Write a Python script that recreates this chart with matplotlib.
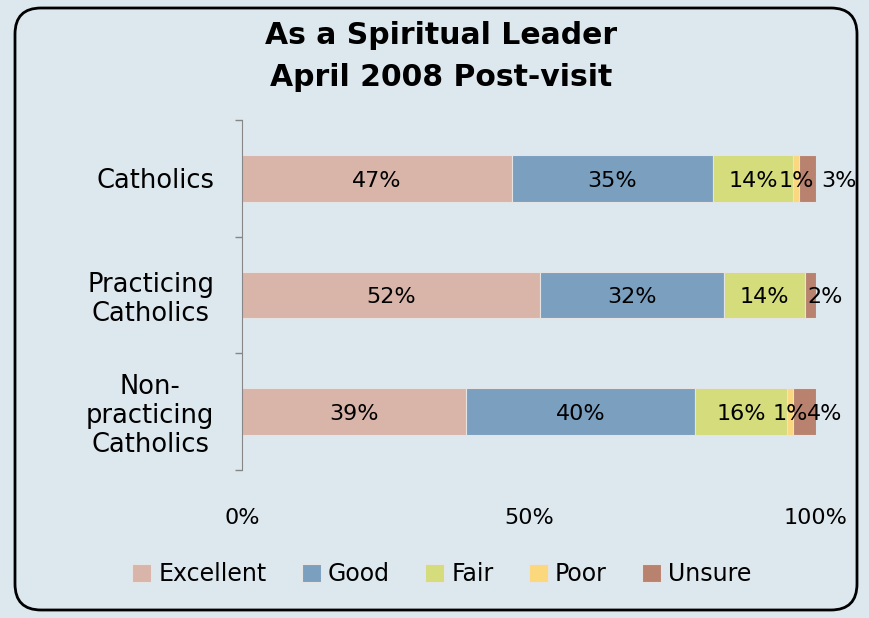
import matplotlib.pyplot as plt
from matplotlib.patches import FancyBboxPatch
import numpy as np

# data
groups = ["Catholics", "Practicing\nCatholics", "Non-\npracticing\nCatholics"]
ratings = ["Excellent", "Good", "Fair", "Poor", "Unsure"]
excellent = [47, 52, 39]
good = [35, 32, 40]
fair = [14, 14, 16]
poor = [1, 0, 1]
unsure = [3, 2, 4]
xtick_labels = ["0%", "50%", "100%"]
# where the unsure labels sit, measured from the end of the bar
unsure_label_shift = [4.0, 1.5, 1.5]

colors = ["#d8b4a9", "#7b9fbf", "#d4dc7c", "#fcd87c", "#b9826f"]
bg = "#dde8ee"

fig = plt.figure(figsize=(8.7, 6.18), dpi=100)
fig.patch.set_facecolor(bg)

# rounded frame
box = FancyBboxPatch((15 / 870, 8 / 618), 842 / 870, 602 / 618,
                     boxstyle="round,pad=0,rounding_size=0.03",
                     transform=fig.transFigure, facecolor=bg,
                     edgecolor="black", linewidth=2, zorder=-1,
                     mutation_aspect=870 / 618)
fig.patches.append(box)

ax = fig.add_axes([242 / 870, 1 - 470 / 618, 574 / 870, 350 / 618])
ax.set_facecolor("none")
ax.set_zorder(2)

series = [excellent, good, fair, poor, unsure]
y = np.arange(len(groups))
left = np.zeros(len(groups))
for name, vals, c in zip(ratings, series, colors):
    vals = np.array(vals, dtype=float)
    ax.barh(y, vals, left=left, height=0.4, color=c, edgecolor="#e4e4e4",
            linewidth=0.8, label=name)
    for i, v in enumerate(vals):
        if v <= 0:
            continue
        xc = left[i] + v / 2
        if name == "Unsure":
            xc = left[i] + v + unsure_label_shift[i]
        ax.text(xc, y[i] + 0.02, f"{int(v)}%", ha="center", va="center",
                fontsize=16, color="black")
    left += vals

ax.set_xlim(0, 100)
ax.set_ylim(2.5, -0.5)
ax.set_xticks([0, 50, 100])
ax.set_xticklabels(xtick_labels, fontsize=16)
ax.tick_params(axis="x", length=0, pad=27)

ax.set_yticks(y)
ax.set_yticklabels(groups, fontsize=18.5, multialignment="center",
                   linespacing=1.15)
ax.tick_params(axis="y", which="major", length=0, pad=20)
ax.set_yticks([-0.5, 0.5, 1.5, 2.5], minor=True)
ax.tick_params(axis="y", which="minor", length=5, color="#868686", width=1)

for s in ["top", "right", "bottom"]:
    ax.spines[s].set_visible(False)
ax.spines["left"].set_color("#868686")

fig.text(441 / 870, 1 - 36 / 618, "As a Spiritual Leader", ha="center",
         va="center", fontsize=21.5, fontweight="bold")
fig.text(441 / 870, 1 - 78 / 618, "April 2008 Post-visit", ha="center",
         va="center", fontsize=21.5, fontweight="bold")

handles, labels = ax.get_legend_handles_labels()
fig.legend(handles, labels, loc="center", bbox_to_anchor=(442 / 870, 1 - 574 / 618),
           ncol=5, frameon=False, fontsize=17, handlelength=0.8,
           handleheight=0.8, handletextpad=0.3, columnspacing=1.5)

fig.savefig("out.png", dpi=100, facecolor=bg)
